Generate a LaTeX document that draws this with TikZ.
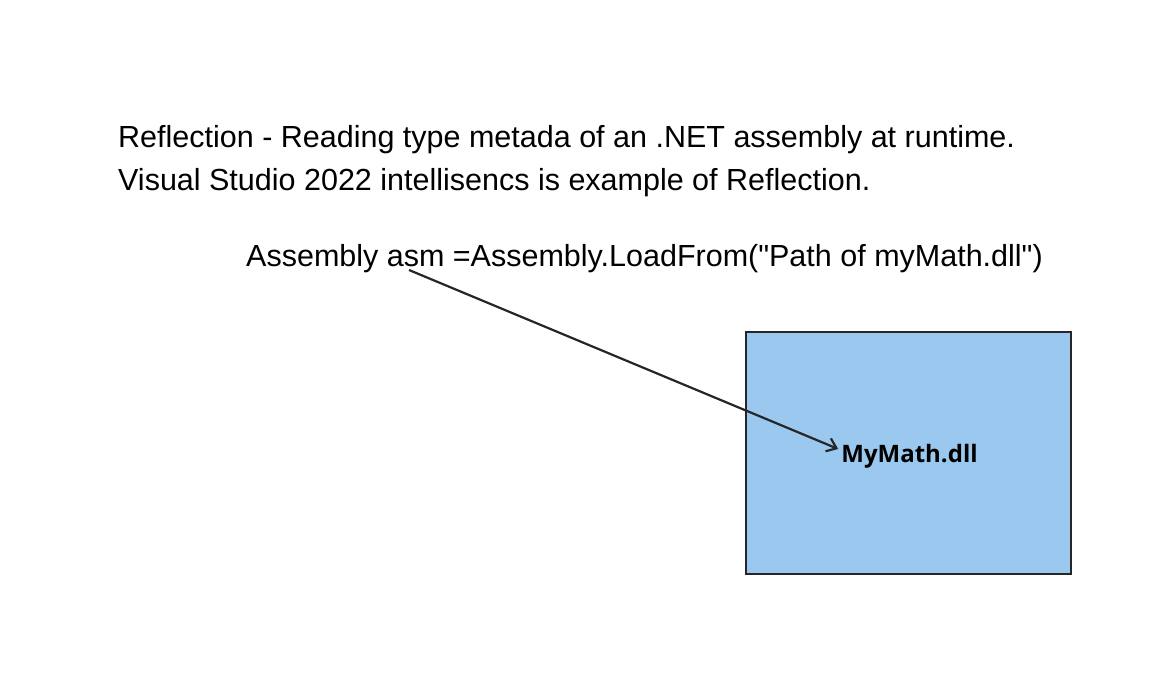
\documentclass[tikz,border=0pt]{standalone}
\usepackage{fontspec}
\setmainfont{Liberation Sans}
\newfontfamily\boxfont{Open Sans}
\usetikzlibrary{arrows.meta}
\definecolor{boxblue}{RGB}{154,200,238}
\definecolor{ink}{RGB}{38,38,38}
\begin{document}
\begin{tikzpicture}[x=1pt,y=1pt,
  txt/.style={anchor=base west,inner sep=0pt,font=\fontsize{30.5}{43}\selectfont},
  dllbox/.style={draw=ink,line width=2.2pt,fill=boxblue},
  conn/.style={draw=ink,line width=2.2pt,-{Straight Barb[length=9pt,width=14pt]}}]
\useasboundingbox (0,0) rectangle (1173,675);
\node[txt] (t1) at (118,527) {Reflection - Reading type metada of an .NET assembly at runtime.};
\node[txt] (t2) at (118,484) {Visual Studio 2022 intellisencs is example of Reflection.};
\node[txt] (t3) at (246,408) {Assembly asm =Assembly.LoadFrom(\textquotedbl Path of myMath.dll\textquotedbl)};
\node[dllbox,minimum width=325pt,minimum height=242pt,inner sep=0pt] (box) at (908.5,222) {};
\node[inner sep=3pt,font=\boxfont\bfseries\fontsize{24}{28}\selectfont] (mm) at (909.5,219) {MyMath.dll};
\coordinate (src) at (409,405);
\draw[conn] (src) -- ([yshift=7pt]mm.west);
\end{tikzpicture}
\end{document}
